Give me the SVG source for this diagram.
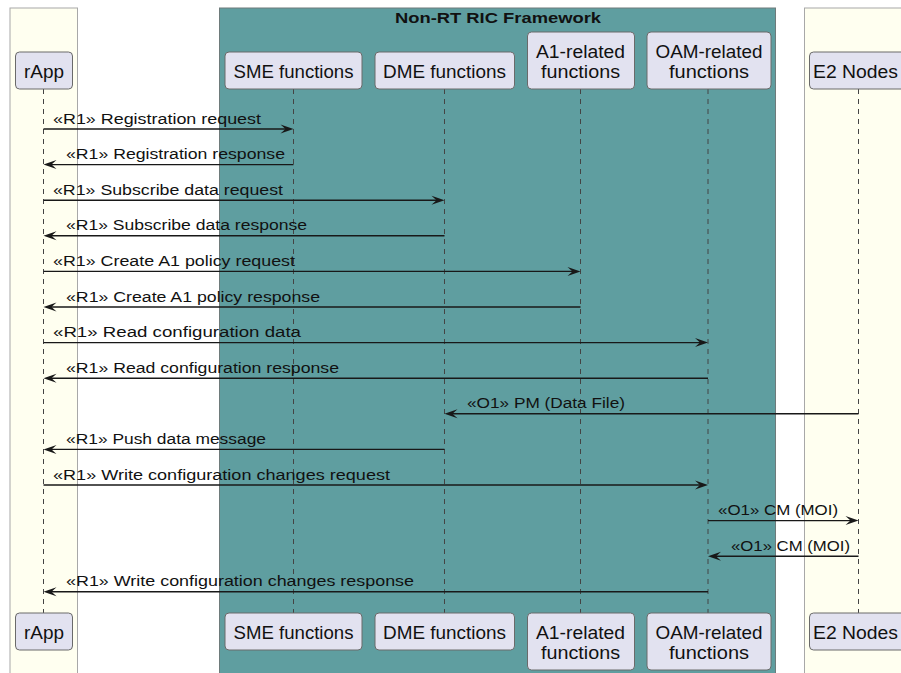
<svg xmlns="http://www.w3.org/2000/svg" width="901" height="673" viewBox="0 0 901 673">
<defs>
<style>
.lane{fill:#FFFFF0;stroke:#A8A8A8;stroke-width:1}
.frame{fill:#5F9EA0;stroke:#6E7B7B;stroke-width:1}
.part rect{fill:#E2E2F0;stroke:#6A6A6A;stroke-width:1}
.part text{font-family:"Liberation Sans",Arial,sans-serif;font-size:17.5px;fill:#111;text-anchor:middle}
.life{stroke:#444;stroke-width:1;stroke-dasharray:5,5;fill:none}
.msg line{stroke:#181818;stroke-width:1.4}
.msg polygon{fill:#181818}
.msg text{font-family:"Liberation Sans",Arial,sans-serif;font-size:15.5px;fill:#111}
.title{font-family:"Liberation Sans",Arial,sans-serif;font-size:14px;font-weight:bold;fill:#111;text-anchor:middle}
</style>
</defs>
<rect width="901" height="673" fill="#FFFFFF"/>
<g id="lane-rApp"><rect class="lane" x="10" y="8" width="67.5" height="675"/></g>
<g id="box-framework"><rect class="frame" x="219.5" y="8" width="556" height="675"/>
<text class="title" x="498" y="23" textLength="206" lengthAdjust="spacingAndGlyphs">Non-RT RIC Framework</text></g>
<g id="lane-E2"><rect class="lane" x="804.5" y="8" width="110" height="675"/></g>

<g id="lifelines">
<line class="life" x1="43.5" y1="89" x2="43.5" y2="613"/>
<line class="life" x1="293.5" y1="89" x2="293.5" y2="613"/>
<line class="life" x1="444.5" y1="89" x2="444.5" y2="613"/>
<line class="life" x1="580.5" y1="89" x2="580.5" y2="613"/>
<line class="life" x1="708" y1="89" x2="708" y2="613"/>
<line class="life" x1="858.5" y1="89" x2="858.5" y2="613"/>
</g>

<g id="rApp" class="part">
<rect x="15.5" y="52" width="57" height="37" rx="4"/><text x="44" y="77.5" textLength="40" lengthAdjust="spacingAndGlyphs">rApp</text>
<rect x="15.5" y="613" width="57" height="37" rx="4"/><text x="44" y="638.5" textLength="40" lengthAdjust="spacingAndGlyphs">rApp</text>
</g>
<g id="SME" class="part">
<rect x="225" y="52" width="137" height="37" rx="4"/><text x="293.5" y="77.5" textLength="120" lengthAdjust="spacingAndGlyphs">SME functions</text>
<rect x="225" y="613" width="137" height="37" rx="4"/><text x="293.5" y="638.5" textLength="120" lengthAdjust="spacingAndGlyphs">SME functions</text>
</g>
<g id="DME" class="part">
<rect x="375" y="52" width="139.5" height="37" rx="4"/><text x="444.5" y="77.5" textLength="123" lengthAdjust="spacingAndGlyphs">DME functions</text>
<rect x="375" y="613" width="139.5" height="37" rx="4"/><text x="444.5" y="638.5" textLength="123" lengthAdjust="spacingAndGlyphs">DME functions</text>
</g>
<g id="A1" class="part">
<rect x="527.5" y="32" width="107" height="57" rx="4"/>
<text x="580.5" y="57.5" textLength="89" lengthAdjust="spacingAndGlyphs">A1-related</text>
<text x="580.5" y="77.5" textLength="79" lengthAdjust="spacingAndGlyphs">functions</text>
<rect x="527.5" y="613" width="107" height="57" rx="4"/>
<text x="580.5" y="638.5" textLength="89" lengthAdjust="spacingAndGlyphs">A1-related</text>
<text x="580.5" y="658.5" textLength="79" lengthAdjust="spacingAndGlyphs">functions</text>
</g>
<g id="OAM" class="part">
<rect x="647" y="32" width="124" height="57" rx="4"/>
<text x="709" y="57.5" textLength="107" lengthAdjust="spacingAndGlyphs">OAM-related</text>
<text x="709" y="77.5" textLength="80" lengthAdjust="spacingAndGlyphs">functions</text>
<rect x="647" y="613" width="124" height="57" rx="4"/>
<text x="709" y="638.5" textLength="107" lengthAdjust="spacingAndGlyphs">OAM-related</text>
<text x="709" y="658.5" textLength="80" lengthAdjust="spacingAndGlyphs">functions</text>
</g>
<g id="E2" class="part">
<rect x="809.5" y="52" width="100" height="37" rx="4"/><text x="855.5" y="77.5" textLength="85" lengthAdjust="spacingAndGlyphs">E2 Nodes</text>
<rect x="809.5" y="613" width="100" height="37" rx="4"/><text x="855.5" y="638.5" textLength="85" lengthAdjust="spacingAndGlyphs">E2 Nodes</text>
</g>

<g id="connectors" class="msg">
<line x1="43.5" y1="129" x2="288" y2="129"/><polygon points="293.5,129 280.5,124.5 285.5,129 280.5,133.5"/>
<text x="53" y="123.5" textLength="208" lengthAdjust="spacingAndGlyphs">«R1» Registration request</text>

<line x1="49" y1="164.6" x2="293.5" y2="164.6"/><polygon points="43.5,164.6 56.5,160.1 51.5,164.6 56.5,169.1"/>
<text x="66" y="159.1" textLength="219" lengthAdjust="spacingAndGlyphs">«R1» Registration response</text>

<line x1="43.5" y1="200.2" x2="439" y2="200.2"/><polygon points="444.5,200.2 431.5,195.7 436.5,200.2 431.5,204.7"/>
<text x="53" y="194.7" textLength="230" lengthAdjust="spacingAndGlyphs">«R1» Subscribe data request</text>

<line x1="49" y1="235.8" x2="444.5" y2="235.8"/><polygon points="43.5,235.8 56.5,231.3 51.5,235.8 56.5,240.3"/>
<text x="66" y="230.3" textLength="241" lengthAdjust="spacingAndGlyphs">«R1» Subscribe data response</text>

<line x1="43.5" y1="271.4" x2="575" y2="271.4"/><polygon points="580.5,271.4 567.5,266.9 572.5,271.4 567.5,275.9"/>
<text x="53" y="265.9" textLength="242" lengthAdjust="spacingAndGlyphs">«R1» Create A1 policy request</text>

<line x1="49" y1="307" x2="580.5" y2="307"/><polygon points="43.5,307 56.5,302.5 51.5,307 56.5,311.5"/>
<text x="66" y="301.5" textLength="254" lengthAdjust="spacingAndGlyphs">«R1» Create A1 policy response</text>

<line x1="43.5" y1="342.6" x2="702.5" y2="342.6"/><polygon points="708,342.6 695,338.1 700,342.6 695,347.1"/>
<text x="53" y="337.1" textLength="248" lengthAdjust="spacingAndGlyphs">«R1» Read configuration data</text>

<line x1="49" y1="378.2" x2="708" y2="378.2"/><polygon points="43.5,378.2 56.5,373.7 51.5,378.2 56.5,382.7"/>
<text x="66" y="372.7" textLength="273" lengthAdjust="spacingAndGlyphs">«R1» Read configuration response</text>

<line x1="450" y1="413.8" x2="858.5" y2="413.8"/><polygon points="444.5,413.8 457.5,409.3 452.5,413.8 457.5,418.3"/>
<text x="467" y="408.3" textLength="158" lengthAdjust="spacingAndGlyphs">«O1» PM (Data File)</text>

<line x1="49" y1="449.4" x2="444.5" y2="449.4"/><polygon points="43.5,449.4 56.5,444.9 51.5,449.4 56.5,453.9"/>
<text x="66" y="443.9" textLength="200" lengthAdjust="spacingAndGlyphs">«R1» Push data message</text>

<line x1="43.5" y1="485" x2="702.5" y2="485"/><polygon points="708,485 695,480.5 700,485 695,489.5"/>
<text x="53" y="479.5" textLength="337" lengthAdjust="spacingAndGlyphs">«R1» Write configuration changes request</text>

<line x1="708" y1="520.6" x2="853" y2="520.6"/><polygon points="858.5,520.6 845.5,516.1 850.5,520.6 845.5,525.1"/>
<text x="718" y="515.1" textLength="120" lengthAdjust="spacingAndGlyphs">«O1» CM (MOI)</text>

<line x1="713.5" y1="556.2" x2="858.5" y2="556.2"/><polygon points="708,556.2 721,551.7 716,556.2 721,560.7"/>
<text x="731" y="550.7" textLength="119" lengthAdjust="spacingAndGlyphs">«O1» CM (MOI)</text>

<line x1="49" y1="591.8" x2="708" y2="591.8"/><polygon points="43.5,591.8 56.5,587.3 51.5,591.8 56.5,596.3"/>
<text x="66" y="586.3" textLength="348" lengthAdjust="spacingAndGlyphs">«R1» Write configuration changes response</text>
</g>
</svg>
